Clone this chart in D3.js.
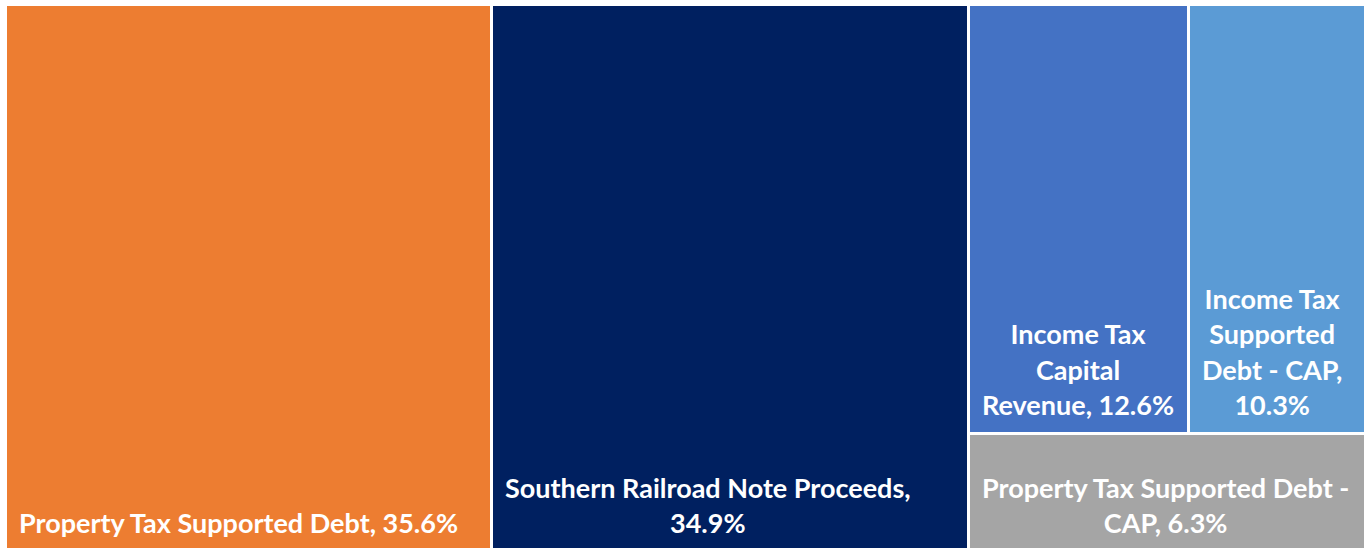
<!DOCTYPE html>
<html>
<head>
<meta charset="utf-8">
<script src="https://cdn.jsdelivr.net/npm/d3@7"></script>
<style>
  body { margin: 0; background: #fff; }
  svg { display: block; }
  .lbl { font-family: Lato, "Open Sans", sans-serif; font-weight: 700; fill: #fff; }
</style>
</head>
<body>
<div id="chart"></div>
<script>
// source shares (percent of total)
var names = ["Property Tax Supported Debt", "Southern Railroad Note Proceeds",
             "Income Tax Capital Revenue", "Income Tax Supported Debt - CAP",
             "Property Tax Supported Debt - CAP"];
var shares = [35.6, 34.9, 12.6, 10.3, 6.3];
var colors = ["#ED7D31", "#002060", "#4472C4", "#5B9BD5", "#A5A5A5"];
// how the label text breaks inside each box
var labelLines = [
  ["Property Tax Supported Debt, 35.6%"],
  ["Southern Railroad Note Proceeds,", "34.9%"],
  ["Income Tax", "Capital", "Revenue, 12.6%"],
  ["Income Tax", "Supported", "Debt - CAP,", "10.3%"],
  ["Property Tax Supported Debt -", "CAP, 6.3%"]
];

var width = 1364, height = 548;

var leaf = function (i) { return { name: names[i], value: shares[i], i: i }; };

// layout nesting: two big blocks, then a column split into a top pair and a bottom block
var tree = {
  name: "root",
  children: [
    leaf(0),
    leaf(1),
    { name: "rest", children: [
        { name: "income", children: [leaf(2), leaf(3)] },
        leaf(4)
    ] }
  ]
};

var root = d3.hierarchy(tree).sum(function (d) { return d.value || 0; });

d3.treemap()
  .tile(d3.treemapSliceDice)
  .size([1359, 544])
  .paddingInner(3)
  .round(true)(root);

var svg = d3.select("#chart")
  .append("svg")
  .attr("width", width)
  .attr("height", height);

var g = svg.append("g").attr("transform", "translate(7,6)");

var cells = g.selectAll("g.cell")
  .data(root.leaves())
  .enter()
  .append("g")
  .attr("class", "cell");

cells.append("rect")
  .attr("x", function (d) { return d.x0; })
  .attr("y", function (d) { return d.y0; })
  .attr("width", function (d) { return d.x1 - d.x0; })
  .attr("height", function (d) { return d.y1 - d.y0; })
  .attr("fill", function (d) { return colors[d.data.i]; });

var lineH = 35.5;
var inset = 12;
cells.append("text")
  .attr("class", "lbl")
  .attr("text-anchor", "middle")
  .style("font-size", "27px")
  .each(function (d) {
    var lines = labelLines[d.data.i];
    var last = d.y1 - 17;
    var t = d3.select(this);
    var spans = lines.map(function (s, k) {
      return t.append("tspan")
        .attr("y", last - (lines.length - 1 - k) * lineH)
        .text(s);
    });
    // label block sits at the left inset, lines centred within it
    var maxW = d3.max(spans, function (sp) { return sp.node().getComputedTextLength(); });
    var cx = d.x0 + inset + maxW / 2;
    spans.forEach(function (sp) { sp.attr("x", cx); });
  });
</script>
</body>
</html>
